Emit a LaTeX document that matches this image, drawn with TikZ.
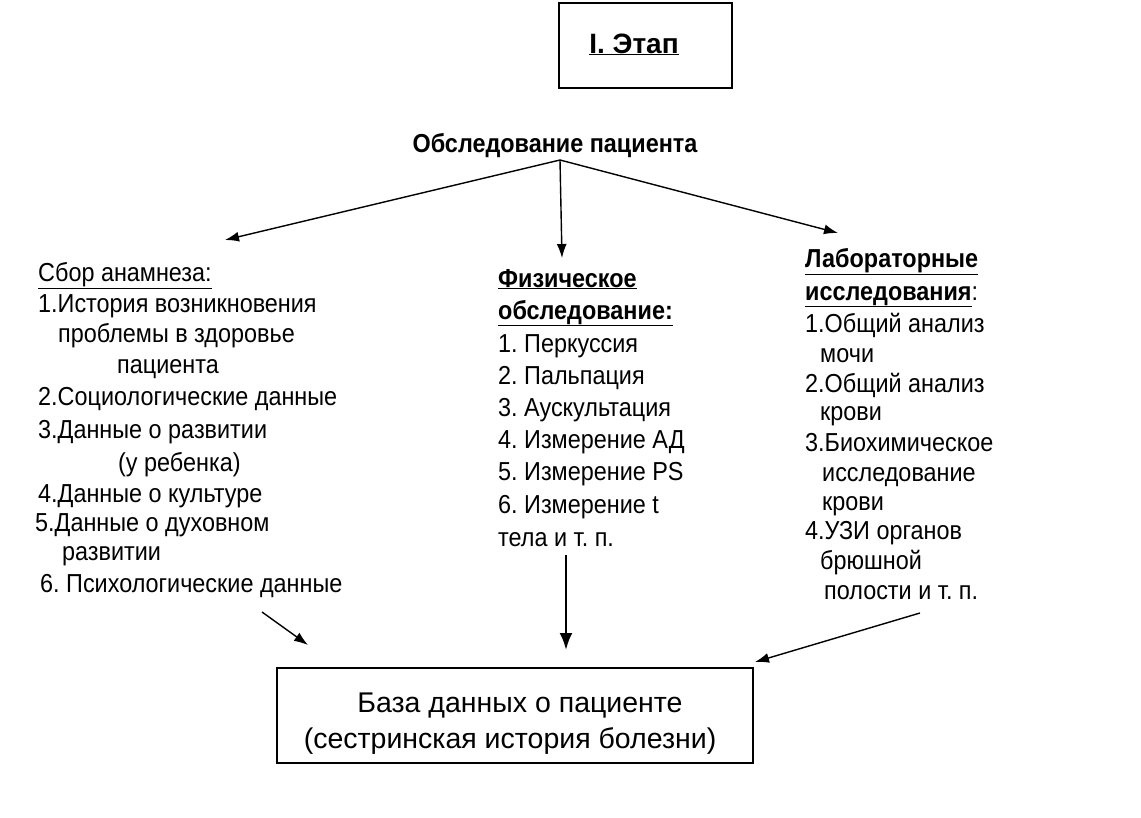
\documentclass[tikz,border=0pt]{standalone}
\usepackage{fontspec}
\setmainfont{Liberation Sans}[FakeStretch=0.9]
\newfontfamily\widefont{Liberation Sans}
\usetikzlibrary{arrows.meta}
\frenchspacing
\begin{document}
\begin{tikzpicture}[x=1pt,y=-1pt,
  txt/.style={anchor=base west,inner sep=0pt,font=\fontsize{26}{30}\selectfont},
  ctxt/.style={anchor=base,inner sep=0pt,font=\widefont\fontsize{28.5}{32}\selectfont},
  hd/.style={txt,font=\fontsize{26}{30}\selectfont\bfseries},
  frame/.style={draw,line width=2pt},
  arr/.style={line width=1.4pt,-{Latex[length=14pt,width=10pt]}},
  bigarr/.style={line width=2.6pt,-{Latex[length=17pt,width=13pt]}}]
\useasboundingbox (0,0) rectangle (1141,817);
% top box
\node[frame,minimum width=173pt,minimum height=85pt,inner sep=0pt] (etap) at (645.5,45.5) {};
\node[ctxt,font=\widefont\fontsize{28}{32}\selectfont\bfseries] (etapt) at (634,53) {\underline{I. Этап}};
% title
\node[anchor=base,inner sep=0pt,font=\fontsize{26}{30}\selectfont\bfseries] (obs) at (555,152) {Обследование пациента};
\coordinate (apex) at (560,160);
\coordinate (tl) at (225,240);
\coordinate (tm) at (562,258);
\coordinate (tr) at (838,233);
\draw[arr] (apex) -- (tl);
\draw[arr] (apex) -- (tm);
\draw[arr] (apex) -- (tr);
% left column
\node[txt] (l0) at (38,281) {\underline{Сбор анамнеза:}};
\node[txt] (l1) at (38,312) {1.История возникновения};
\node[txt] (l2) at (58,342) {проблемы в здоровье};
\node[txt] (l3) at (117,373) {пациента};
\node[txt] (l4) at (38,405) {2.Социологические данные};
\node[txt] (l5) at (38,438) {3.Данные о развитии};
\node[txt] (l6) at (118,471) {(у ребенка)};
\node[txt] (l7) at (38,502) {4.Данные о культуре};
\node[txt] (l8) at (35,531) {5.Данные о духовном};
\node[txt] (l9) at (62,560) {развитии};
\node[txt] (l10) at (40,592) {6. Психологические данные};
% middle column
\node[hd] (m0) at (498,287) {\underline{Физическое}};
\node[hd] (m1) at (498,319) {\underline{обследование:}};
\node[txt] (m2) at (498,352) {1. Перкуссия};
\node[txt] (m3) at (498,384) {2. Пальпация};
\node[txt] (m4) at (498,416) {3. Аускультация};
\node[txt] (m5) at (498,448) {4. Измерение АД};
\node[txt] (m6) at (498,480) {5. Измерение PS};
\node[txt] (m7) at (498,513) {6. Измерение t};
\node[txt] (m8) at (498,546) {тела и т. п.};
% right column
\node[hd] (r0) at (805,267) {\underline{Лабораторные}};
\node[hd] (r1) at (805,300) {\underline{исследования}\rlap{\normalfont:}};
\node[txt] (r2) at (805,332) {1.Общий анализ};
\node[txt] (r3) at (820,362) {мочи};
\node[txt] (r4) at (805,392) {2.Общий анализ};
\node[txt] (r5) at (820,420) {крови};
\node[txt] (r6) at (805,451) {3.Биохимическое};
\node[txt] (r7) at (822,481) {исследование};
\node[txt] (r8) at (822,510) {крови};
\node[txt] (r9) at (805,539) {4.УЗИ органов};
\node[txt] (r10) at (820,569) {брюшной};
\node[txt] (r11) at (824,599) {полости и т. п.};
% bottom box
\node[frame,minimum width=476pt,minimum height=95pt,inner sep=0pt] (db) at (515,715.5) {};
\node[ctxt] (db1) at (520,712) {База данных о пациенте};
\node[ctxt] (db2) at (510,748) {(сестринская история болезни)};
\coordinate (sl) at (262,612);
\coordinate (el) at (308,645);
\coordinate (sm) at (566,555);
\coordinate (em) at (566,650);
\coordinate (sr) at (920,613);
\coordinate (er) at (755,662);
\draw[arr] (sl) -- (el);
\draw[bigarr] (sm) -- (em);
\draw[arr] (sr) -- (er);
\end{tikzpicture}
\end{document}
